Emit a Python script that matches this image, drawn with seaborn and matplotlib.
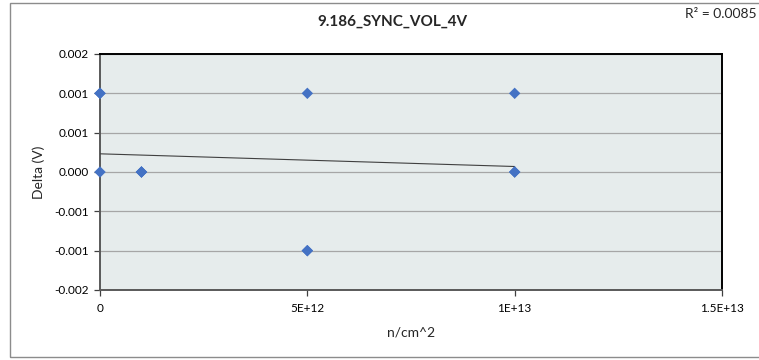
import numpy as np
import matplotlib
matplotlib.use("Agg")
import matplotlib.pyplot as plt
import seaborn as sns
from matplotlib.patches import Rectangle

# data (several points overlap on the chart)
fluence = [0, 0, 0, 1e12, 1e12, 1e12, 5e12, 5e12, 5e12, 1e13, 1e13, 1e13]
delta = [0.001, 0.001, 0.0, 0.0, 0.0, 0.0, 0.001, -0.001, -0.001, 0.001, 0.0, 0.0]

title = '9.186_SYNC_VOL_4V'
x_ticks = [0, 5e12, 1e13, 1.5e13]
x_ticklabels = ['0', '5E+12', '1E+13', '1.5E+13']
y_ticks = [-0.0015, -0.001, -0.0005, 0.0, 0.0005, 0.001, 0.0015]

sns.set_style("white")
plt.rcParams['font.family'] = ['Lato', 'DejaVu Sans']

fig = plt.figure(figsize=(7.59, 3.6), dpi=100)
ax = fig.add_axes([100 / 759, 70 / 360, 622 / 759, 236 / 360])
ax.set_facecolor('#E6ECEC')

# trendline
sns.regplot(x=fluence, y=delta, scatter=False, ci=None, truncate=True, ax=ax,
            line_kws=dict(color='#404040', lw=0.8, zorder=3))

sns.scatterplot(x=fluence, y=delta, marker='D', s=34, color='#4472C4',
                edgecolor='none', ax=ax, zorder=5, clip_on=False)

ax.set_xlim(0, 1.5e13)
ax.set_ylim(-0.0015, 0.0015)
ax.set_xticks(x_ticks)
ax.set_xticklabels(x_ticklabels)
ax.set_yticks(y_ticks)
ax.set_yticklabels([f'{v:.3f}' for v in y_ticks])
ax.yaxis.grid(True, color='#A6A6A6', lw=0.9)
ax.xaxis.grid(False)
ax.set_axisbelow(True)

ax.tick_params(axis='both', labelsize=8.5, colors='#404040', labelcolor='black',
               length=4, width=0.9, direction='out', pad=4)
ax.tick_params(axis='x', bottom=True, pad=5)
ax.tick_params(axis='y', left=True)

for side in ['top', 'right']:
    ax.spines[side].set_color('black')
    ax.spines[side].set_linewidth(1.4)
for side in ['left', 'bottom']:
    ax.spines[side].set_color('#595959')
    ax.spines[side].set_linewidth(1.4)

ax.set_xlabel('n/cm^2', fontsize=10)
ax.set_ylabel('Delta (V)', fontsize=10)
ax.xaxis.set_label_coords(0.5, -0.155)
ax.yaxis.set_label_coords(-0.088, 0.5)

fig.text(392 / 759, 1 - 22 / 360, title, ha='center', va='center',
         fontsize=11, fontweight='bold')

r2 = np.corrcoef(fluence, delta)[0, 1] ** 2
fig.text(757 / 759, 1 - 13.5 / 360, f'R\u00b2 = {r2:.4f}', ha='right', va='center',
         fontsize=10)

# chart border
fig.patches.append(Rectangle((10 / 759, 3 / 360), 1.0, 354 / 360, transform=fig.transFigure,
                             fill=False, edgecolor='#8C8C8C', lw=1.0))

fig.savefig('out.png', dpi=100)
